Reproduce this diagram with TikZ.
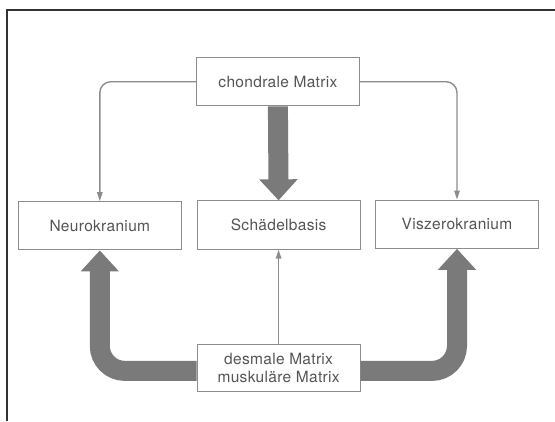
\documentclass[tikz,border=0pt]{standalone}
\usepackage{fontspec}
\setmainfont{TeX Gyre Heros}[LetterSpace=2]
\usetikzlibrary{arrows.meta}
\definecolor{arrowgray}{HTML}{7A7A7A}
\definecolor{boxgray}{HTML}{8C8C8C}
\definecolor{textgray}{HTML}{555555}
\definecolor{framegray}{HTML}{333333}
\tikzset{
  box/.style={draw=boxgray, line width=1pt, fill=white, minimum width=162.8pt, minimum height=48.3pt, inner sep=0pt, text=textgray, font=\fontsize{15.5}{18.5}\selectfont, align=center},
  thinarrow/.style={draw=boxgray, line width=1.4pt, -{Triangle[length=9pt,width=5.5pt]}},
  bigarrow/.style={draw=arrowgray, line width=20pt, -{Triangle[length=21pt,width=37pt]}},
}
\begin{document}
\begin{tikzpicture}[x=1pt,y=-1pt]
\useasboundingbox (0,0) rectangle (555,421);
\draw[framegray, line width=2pt] (6.5,421) -- (6.5,10) -- (555,10);

\node[box] (chond) at (277.9,81.7) {chondrale Matrix};
\node[box] (neuro) at (99.8,225.8) {Neurokranium};
\node[box] (schaedel) at (278.6,225) {Schädelbasis};
\node[box, minimum width=163.6pt] (viszero) at (457,224.2) {Viszerokranium};
\node[box, minimum height=47.7pt] (desm) at (278.6,367.9) {desmale Matrix\\muskuläre Matrix};

\draw[thinarrow, rounded corners=11pt] (chond.west) -| (neuro.north);
\draw[thinarrow, rounded corners=11pt] (chond.east) -| (viszero.north);
\draw[bigarrow] (chond.south) -- (schaedel.north);
\draw[thinarrow] (desm.north) -- (schaedel.south);
\draw[bigarrow, rounded corners=25pt] ([yshift=-3pt]desm.west) -| (neuro.south);
\draw[bigarrow, rounded corners=25pt] ([yshift=-3pt]desm.east) -| (viszero.south);
\end{tikzpicture}
\end{document}
